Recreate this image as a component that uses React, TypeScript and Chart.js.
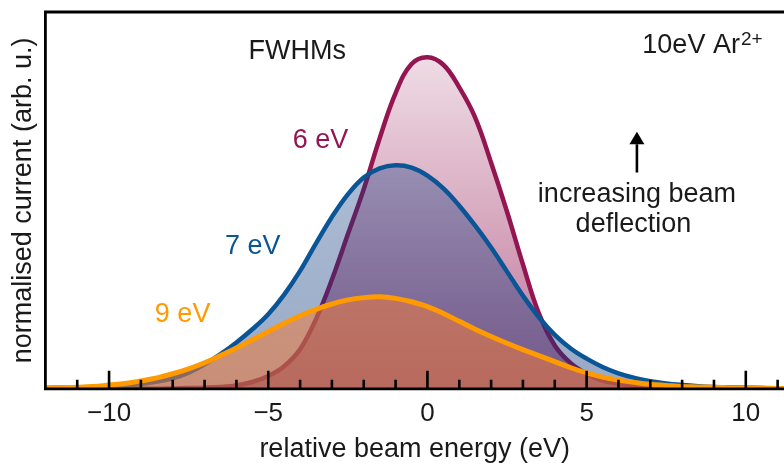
import { useEffect, useRef } from 'react';
import { Chart, registerables } from 'chart.js';

Chart.register(...registerables);

// relative beam energy (eV)
const energies = [
  -12, -11.5, -11, -10.5, -10, -9.5, -9, -8.5, -8, -7.5, -7, -6.5, -6, -5.5, -5, -4.5,
  -4, -3.5, -3, -2.5, -2, -1.5, -1, -0.5, 0, 0.5, 1, 1.5, 2, 2.5, 3, 3.5,
  4, 4.5, 5, 5.5, 6, 6.5, 7, 7.5, 8, 8.5, 9, 9.5, 10, 10.5, 11, 11.5,
];

// normalised current, FWHM 6 eV
const current6 = [
  0, 0, 0, 0, 0, 0, 0, 0, 0.001, 0.002, 0.003, 0.005, 0.009, 0.018, 0.034, 0.06,
  0.105, 0.185, 0.29, 0.41, 0.53, 0.665, 0.785, 0.862, 0.88, 0.86, 0.8, 0.72, 0.6, 0.47, 0.33, 0.2,
  0.115, 0.068, 0.04, 0.022, 0.013, 0.007, 0.004, 0.002, 0.001, 0, 0, 0, 0, 0, 0, 0,
];

// normalised current, FWHM 7 eV
const current7 = [
  0.002, 0.003, 0.004, 0.005, 0.007, 0.009, 0.013, 0.019, 0.028, 0.043, 0.065, 0.092, 0.123, 0.158, 0.198, 0.25,
  0.313, 0.386, 0.456, 0.516, 0.561, 0.585, 0.593, 0.587, 0.566, 0.532, 0.486, 0.433, 0.375, 0.311, 0.247, 0.19,
  0.143, 0.107, 0.08, 0.058, 0.041, 0.029, 0.02, 0.014, 0.01, 0.007, 0.005, 0.004, 0.003, 0.002, 0.001, 0.001,
];

// normalised current, FWHM 9 eV
const current9 = [
  0.002, 0.003, 0.004, 0.006, 0.01, 0.014, 0.021, 0.029, 0.04, 0.053, 0.069, 0.088, 0.108, 0.13, 0.152, 0.174,
  0.194, 0.211, 0.225, 0.236, 0.242, 0.244, 0.24, 0.231, 0.218, 0.2, 0.179, 0.158, 0.139, 0.121, 0.104, 0.088,
  0.072, 0.056, 0.042, 0.031, 0.023, 0.017, 0.012, 0.009, 0.006, 0.005, 0.004, 0.003, 0.002, 0.002, 0.001, 0.001,
];

const majorTicks = [-10, -5, 0, 5, 10];
const minorTicks = [-11, -9, -8, -7, -6, -4, -3, -2, -1, 1, 2, 3, 4, 6, 7, 8, 9, 11];

const FONT = '"Liberation Sans", Arial, Helvetica, sans-serif';
const RED = '#931652';
const BLUE = '#0a5596';
const ORANGE = '#ff9a00';
const INK = '#1a1a1a';

function grad(chart: any, stops: [number, string][]) {
  const area = chart.chartArea;
  if (!area) return stops[0][1];
  const g = chart.ctx.createLinearGradient(0, area.top, 0, area.bottom);
  stops.forEach(([o, c]) => g.addColorStop(o, c));
  return g;
}

const decorPlugin = {
  id: 'decor',
  afterDatasetsDraw(chart: any) {
    const { ctx, chartArea: a, scales } = chart;
    const xs = scales.x;
    const ys = scales.y;
    ctx.save();
    ctx.strokeStyle = '#000';
    ctx.lineCap = 'butt';
    // axis lines
    ctx.lineWidth = 2.8;
    ctx.beginPath();
    ctx.moveTo(a.left, a.bottom);
    ctx.lineTo(a.right, a.bottom);
    ctx.moveTo(a.left, a.bottom + 1.4);
    ctx.lineTo(a.left, a.top);
    ctx.moveTo(a.left - 1.4, a.top);
    ctx.lineTo(a.right, a.top);
    ctx.stroke();
    // ticks inside
    ctx.lineWidth = 2.6;
    ctx.beginPath();
    majorTicks.forEach((v) => {
      const px = xs.getPixelForValue(v);
      ctx.moveTo(px, a.bottom);
      ctx.lineTo(px, a.bottom - 18);
    });
    minorTicks.forEach((v) => {
      const px = xs.getPixelForValue(v);
      ctx.moveTo(px, a.bottom);
      ctx.lineTo(px, a.bottom - 9);
    });
    ctx.stroke();

    const text = (s: string, xv: number, yv: number, color: string, size: number, align: CanvasTextAlign) => {
      ctx.font = `${size}px ${FONT}`;
      ctx.fillStyle = color;
      ctx.textAlign = align;
      ctx.textBaseline = 'alphabetic';
      ctx.fillText(s, xs.getPixelForValue(xv), ys.getPixelForValue(yv));
    };
    text('FWHMs', -4.09, 0.875, INK, 27, 'center');
    text('6 eV', -3.36, 0.638, RED, 27, 'center');
    text('7 eV', -5.49, 0.359, BLUE, 27, 'center');
    text('9 eV', -7.69, 0.176, ORANGE, 27, 'center');
    text('increasing beam', 6.58, 0.497, INK, 27, 'center');
    text('deflection', 6.47, 0.415, INK, 27, 'center');
    // 10eV Ar2+
    ctx.font = `27px ${FONT}`;
    const base = '10eV Ar';
    const bx = xs.getPixelForValue(6.75);
    const by = ys.getPixelForValue(0.89);
    ctx.fillStyle = INK;
    ctx.textAlign = 'left';
    ctx.fillText(base, bx, by);
    const w = ctx.measureText(base).width;
    ctx.font = `19px ${FONT}`;
    ctx.fillText('2+', bx + w + 1, by - 8);

    // arrow
    const ax = xs.getPixelForValue(6.58);
    const tip = ys.getPixelForValue(0.682);
    const headBase = ys.getPixelForValue(0.649);
    const tail = ys.getPixelForValue(0.574);
    ctx.lineWidth = 2.6;
    ctx.beginPath();
    ctx.moveTo(ax, tail);
    ctx.lineTo(ax, headBase);
    ctx.stroke();
    ctx.fillStyle = '#000';
    ctx.beginPath();
    ctx.moveTo(ax, tip);
    ctx.lineTo(ax - 7.5, headBase);
    ctx.lineTo(ax + 7.5, headBase);
    ctx.closePath();
    ctx.fill();
    ctx.restore();
  },
};

export default function App() {
  const ref = useRef<HTMLCanvasElement | null>(null);
  useEffect(() => {
    if (!ref.current) return;
    const pts = (arr: number[]) => energies.map((x, i) => ({ x, y: arr[i] }));
    const common = { pointRadius: 0, tension: 0.4, fill: 'origin' };
    const chart = new Chart(ref.current, {
      type: 'line',
      data: {
        datasets: [
          {
            ...common,
            label: '9 eV',
            data: pts(current9),
            borderColor: ORANGE,
            borderWidth: 5,
            backgroundColor: (c: any) =>
              grad(c.chart, [
                [0, 'rgba(245,135,60,0.45)'],
                [1, 'rgba(240,120,55,0.55)'],
              ]),
          },
          {
            ...common,
            label: '7 eV',
            data: pts(current7),
            borderColor: BLUE,
            borderWidth: 4.5,
            backgroundColor: (c: any) =>
              grad(c.chart, [
                [0, 'rgba(10,60,130,0.28)'],
                [1, 'rgba(10,50,120,0.42)'],
              ]),
          },
          {
            ...common,
            label: '6 eV',
            data: pts(current6),
            borderColor: RED,
            borderWidth: 4.5,
            backgroundColor: (c: any) =>
              grad(c.chart, [
                [0, 'rgba(147,22,82,0.08)'],
                [0.12, 'rgba(147,22,82,0.15)'],
                [1, 'rgba(147,22,82,0.6)'],
              ]),
          },
        ],
      },
      options: {
        animation: false,
        responsive: false,
        maintainAspectRatio: false,
        layout: { padding: { left: 7, right: 0, top: 12, bottom: 0 } },
        plugins: { legend: { display: false }, tooltip: { enabled: false } },
        scales: {
          x: {
            type: 'linear',
            min: -12,
            max: 11.2,
            grid: { display: false, drawTicks: false, tickLength: 0 },
            border: { display: false },
            afterBuildTicks: (s: any) => {
              s.ticks = majorTicks.map((v) => ({ value: v }));
            },
            ticks: {
              color: INK,
              padding: 12,
              maxRotation: 0,
              font: { family: FONT, size: 26, lineHeight: 1 },
              callback: (v: any) => (Number(v) < 0 ? '\u2212' + Math.abs(Number(v)) : String(v)),
            },
            title: {
              display: true,
              text: 'relative beam energy (eV)',
              color: INK,
              font: { family: FONT, size: 27, lineHeight: 0.6 },
              padding: { top: 3, bottom: 10 },
            },
          },
          y: {
            min: 0,
            max: 1,
            grid: { display: false, drawTicks: false, tickLength: 0 },
            border: { display: false },
            ticks: { display: false },
            title: {
              display: true,
              text: 'normalised current (arb. u.)',
              color: INK,
              font: { family: FONT, size: 27 },
              padding: { top: 0, bottom: 6 },
            },
          },
        },
      },
      plugins: [decorPlugin],
    } as any);
    return () => chart.destroy();
  }, []);
  return (
    <div style={{ position: 'fixed', left: 0, top: 0, width: 784, height: 468, background: '#fff' }}>
      <canvas ref={ref} width={784} height={468} style={{ width: 784, height: 468 }} />
    </div>
  );
}
